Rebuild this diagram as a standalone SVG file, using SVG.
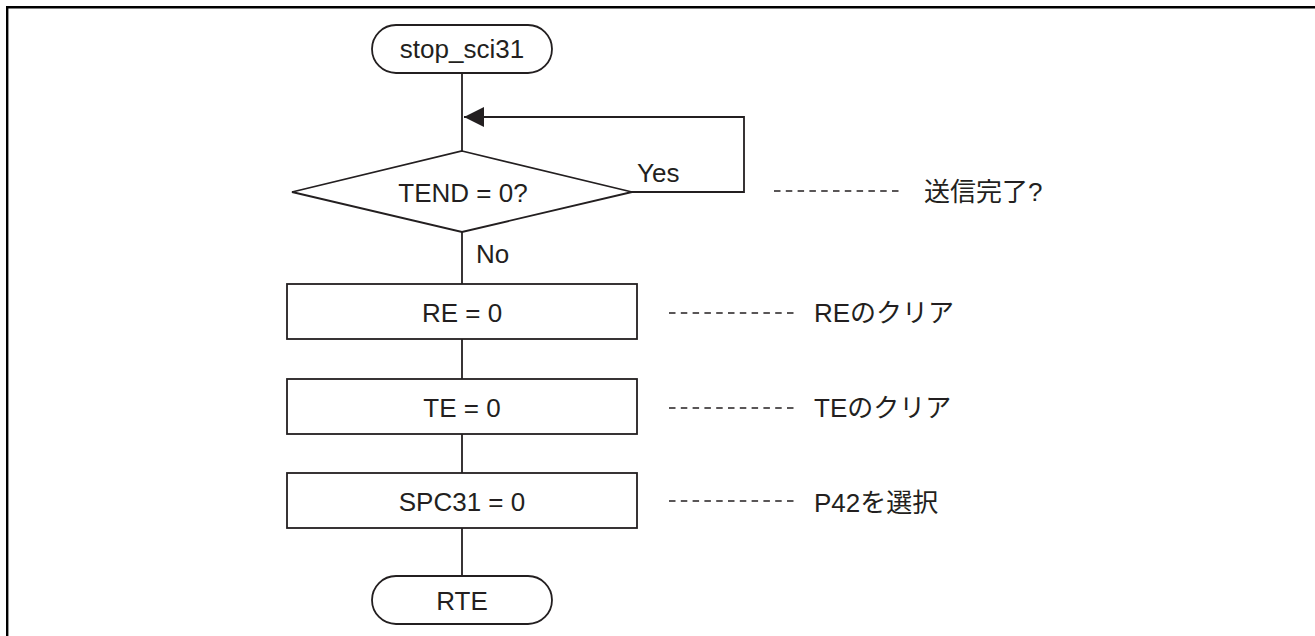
<svg xmlns="http://www.w3.org/2000/svg" width="1315" height="636" viewBox="0 0 1315 636">
  <style>
    .shape { fill: #ffffff; stroke: #231f20; stroke-width: 1.8; }
    .wire { fill: none; stroke: #231f20; stroke-width: 1.8; }
    .lead { fill: none; stroke: #231f20; stroke-width: 1.7; stroke-dasharray: 6.5 5.3; }
    .label { font-family: "Liberation Sans", Arial, "Noto Sans CJK JP", sans-serif; font-size: 26px; fill: #231f20; }
    .mid { text-anchor: middle; }
  </style>
  <defs>
    <marker id="arrow" markerWidth="20" markerHeight="20" refX="20" refY="10" orient="auto" markerUnits="userSpaceOnUse">
      <path d="M0,0 L20,10 L0,20 Z" fill="#231f20"/>
    </marker>
  </defs>

  <rect width="1315" height="636" fill="#ffffff"/>

  <!-- page frame (top and left edges) -->
  <path d="M7.2,636 V7.3 H1315" fill="none" stroke="#000000" stroke-width="2.4"/>

  <!-- connectors -->
  <g id="connectors">
    <line class="wire" x1="462" y1="73" x2="462" y2="151"/>
    <polyline class="wire" points="632,192 744,192 744,117 464,117" marker-end="url(#arrow)"/>
    <line class="wire" x1="462" y1="232" x2="462" y2="284"/>
    <line class="wire" x1="462" y1="339" x2="462" y2="379"/>
    <line class="wire" x1="462" y1="434" x2="462" y2="473"/>
    <line class="wire" x1="462" y1="528" x2="462" y2="576"/>
    <text class="label" x="637" y="182">Yes</text>
    <text class="label" x="476" y="263">No</text>
  </g>

  <!-- start terminal -->
  <g id="start">
    <rect class="shape" x="372" y="25" width="180" height="48" rx="24" ry="24"/>
    <text class="label mid" x="462" y="58">stop_sci31</text>
  </g>

  <!-- transmit-end check -->
  <g id="check-tend">
    <polygon class="shape" points="462,151 632,192 462,232 292,192"/>
    <text class="label mid" x="463" y="202">TEND = 0?</text>
  </g>

  <g id="clear-re">
    <rect class="shape" x="287" y="284" width="350" height="55"/>
    <text class="label mid" x="462" y="322">RE = 0</text>
  </g>

  <g id="clear-te">
    <rect class="shape" x="287" y="379" width="350" height="55"/>
    <text class="label mid" x="462" y="417">TE = 0</text>
  </g>

  <g id="select-p42">
    <rect class="shape" x="287" y="473" width="350" height="55"/>
    <text class="label mid" x="462" y="511">SPC31 = 0</text>
  </g>

  <!-- end terminal -->
  <g id="end">
    <rect class="shape" x="372" y="576" width="180" height="48" rx="24" ry="24"/>
    <text class="label mid" x="462" y="610">RTE</text>
  </g>

  <!-- side notes -->
  <g id="notes">
    <line class="lead" x1="774" y1="191" x2="901" y2="191"/>
    <text class="label" x="924" y="201">送信完了?</text>
    <line class="lead" x1="669" y1="313" x2="796" y2="313"/>
    <text class="label" x="814" y="322">REのクリア</text>
    <line class="lead" x1="669" y1="408" x2="796" y2="408"/>
    <text class="label" x="814" y="417">TEのクリア</text>
    <line class="lead" x1="669" y1="501" x2="796" y2="501"/>
    <text class="label" x="814" y="512">P42を選択</text>
  </g>
</svg>
